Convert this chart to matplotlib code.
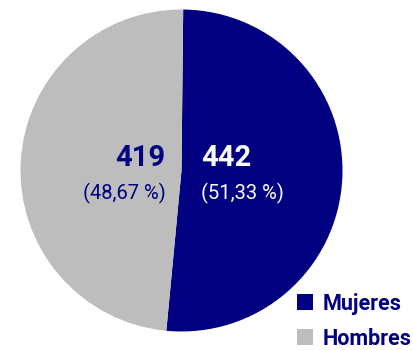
import matplotlib.pyplot as plt

plt.rcParams['font.family'] = ['Roboto', 'DejaVu Sans']

labels = ["Mujeres", "Hombres"]
counts = [442, 419]
pct_text = ["51,33", "48,67"]
colors = ["#000080", "#bdbdbd"]
text_colors = ["white", "#000080"]

fig = plt.figure(figsize=(4.14, 3.5), dpi=100)
# square axes, pie radius 1 fills it
ax = fig.add_axes([20.5 / 414, 18.5 / 350, 322 / 414, 322 / 350])

wedges, _ = ax.pie(counts, colors=colors, startangle=89.4, counterclock=False,
                   radius=1, wedgeprops=dict(linewidth=0))
ax.set_xlim(-1, 1)
ax.set_ylim(-1, 1)
ax.set_aspect("equal")
ax.axis("off")

# value labels near the centre, one each side of the split
for i, (n, pc) in enumerate(zip(counts, pct_text)):
    if i == 0:
        x, ha = 0.12, "left"
    else:
        x, ha = -0.1, "right"
    ax.text(x, 0.08, str(n), ha=ha, va="center", fontsize=21,
            fontweight="bold", color=text_colors[i])
    ax.text(x, -0.14, "(" + pc + " %)", ha=ha, va="center", fontsize=14.5,
            color=text_colors[i])

leg = fig.legend(wedges, labels, loc="lower right", bbox_to_anchor=(1.042, -0.054),
                 frameon=False, handlelength=0.75, handleheight=0.75,
                 handletextpad=0.45, labelspacing=0.6,
                 prop=dict(size=15.5, weight="bold"))
for t in leg.get_texts():
    t.set_color("#000080")

fig.savefig("out.png", dpi=100)
